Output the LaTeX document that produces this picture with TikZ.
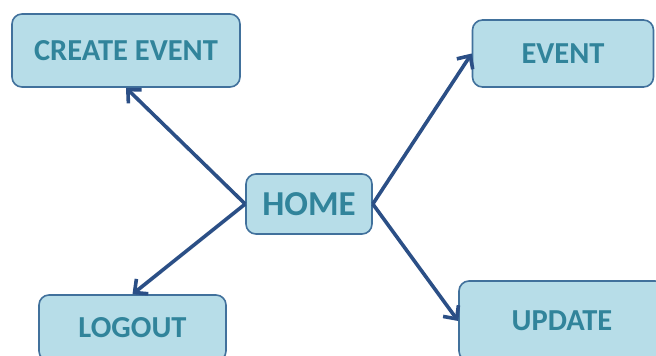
\documentclass[tikz,border=0pt]{standalone}
\usepackage{fontspec}
\setmainfont{Carlito}
\usetikzlibrary{arrows.meta}
\definecolor{boxfill}{HTML}{B7DDE8}
\definecolor{boxline}{HTML}{41719C}
\definecolor{boxtext}{HTML}{31849B}
\definecolor{linkcol}{HTML}{2B4F86}
\begin{document}
\begin{tikzpicture}[x=1pt,y=-1pt,
  menubox/.style={draw=boxline, fill=boxfill, line width=1.6pt, rounded corners=10pt,
    text=boxtext, font=\bfseries\fontsize{30.5}{36}\selectfont, inner sep=0pt},
  link/.style={draw=linkcol, line width=3.6pt,
    -{Straight Barb[length=10pt,width=19pt,line width=3.6pt]}}]
\useasboundingbox (0,0) rectangle (656,356);
\node[menubox, minimum width=228pt, minimum height=73pt] (create) at (126,50.5) {CREATE EVENT};
\node[menubox, minimum width=126pt, minimum height=60pt, font=\bfseries\fontsize{35}{42}\selectfont] (home) at (309,204) {HOME};
\node[menubox, minimum width=181pt, minimum height=67pt] (event) at (563,53.5) {EVENT};
\node[menubox, minimum width=206pt, minimum height=80pt] (update) at (562,321) {UPDATE};
\node[menubox, minimum width=187pt, minimum height=66pt] (logout) at (132.5,328) {LOGOUT};
\draw[link] (home.west) -- (create.south);
\draw[link] (home.west) -- (logout.north);
\draw[link] (home.east) -- (event.west);
\draw[link] (home.east) -- (update.west);
\end{tikzpicture}
\end{document}
